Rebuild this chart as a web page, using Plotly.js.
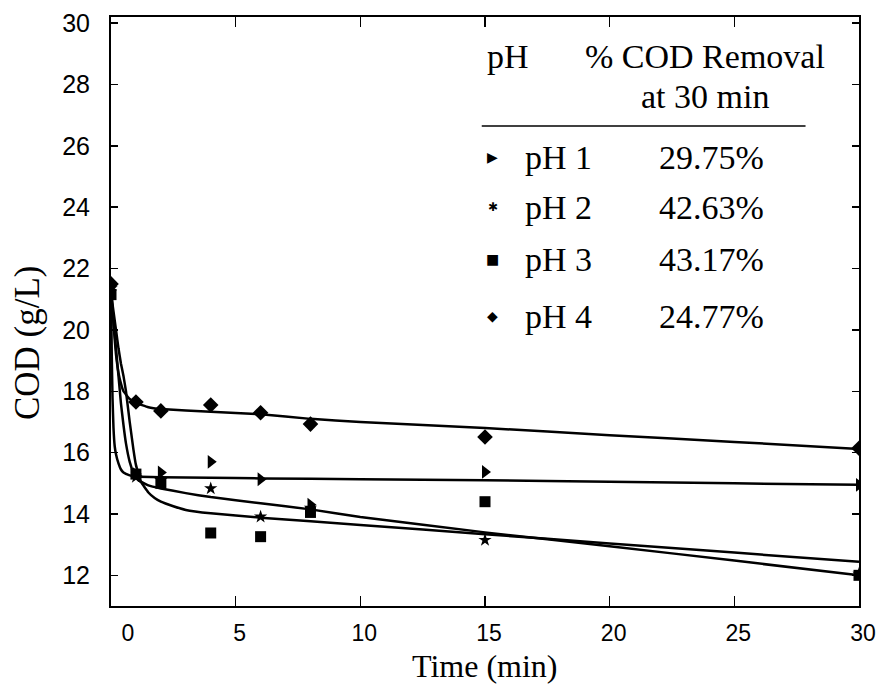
<!DOCTYPE html>
<html>
<head>
<meta charset="utf-8">
<script src="https://cdn.plot.ly/plotly-3.0.1.min.js"></script>
<style>html,body{margin:0;padding:0;background:#fff;}#chart{width:877px;height:684px;}</style>
</head>
<body>
<div id="chart"></div>
<script>
// Measured points (Time in min, COD in g/L)
const timeMin = [0, 1, 2, 4, 6, 8, 15, 30];
const codPH1 = [21.3, 15.3, 15.35, 15.7, 15.13, 14.3, 15.37, 14.95];
const codPH2 = [21.35, 15.2, 15.1, 14.83, 13.91, 14.2, 13.15, 12.05];
const codPH3 = [21.15, 15.3, 15.0, 13.38, 13.26, 14.05, 14.4, 12.0];
const codPH4 = [21.5, 17.65, 17.36, 17.55, 17.3, 16.93, 16.51, 16.14];

// Fitted curves
const fitTimePH1 = [0, 0.03, 0.06, 0.1, 0.15, 0.2, 0.3, 0.4, 0.5, 0.75, 1, 2, 4, 6, 10, 15, 20, 25, 30];
const fitPH1 = [21.3, 19.2, 17.8, 16.8, 16.2, 15.95, 15.65, 15.45, 15.35, 15.26, 15.22, 15.2, 15.18, 15.16, 15.13, 15.1, 15.05, 15.0, 14.95];
const fitTimePH2 = [0, 0.1, 0.2, 0.3, 0.4, 0.5, 0.6, 0.75, 0.9, 1, 1.2, 1.5, 1.75, 2, 2.5, 3, 4, 6, 10, 15, 20, 25, 30];
const fitPH2 = [21.2, 20.6, 20.0, 19.4, 18.9, 18.5, 18.0, 17.0, 16.1, 15.6, 15.05, 14.7, 14.52, 14.4, 14.25, 14.13, 14.02, 13.88, 13.64, 13.34, 13.04, 12.74, 12.44];
const fitTimePH3 = [0, 0.1, 0.2, 0.3, 0.4, 0.5, 0.6, 0.75, 0.9, 1.1, 1.5, 2, 3, 4, 6, 8, 10, 15, 20, 25, 30];
const fitPH3 = [21.15, 20.3, 19.4, 18.5, 17.6, 16.9, 16.3, 15.7, 15.35, 15.1, 14.93, 14.83, 14.68, 14.55, 14.35, 14.15, 13.9, 13.4, 12.95, 12.48, 12.0];
const fitTimePH4 = [0, 0.1, 0.2, 0.3, 0.4, 0.5, 0.75, 1, 1.5, 2, 4, 6, 8, 10, 15, 20, 25, 30];
const fitPH4 = [21.5, 20.2, 19.2, 18.6, 18.25, 18.0, 17.75, 17.62, 17.48, 17.42, 17.33, 17.25, 17.1, 17.0, 16.8, 16.57, 16.35, 16.12];

// Legend table text and tick labels
const legendNames = ['pH 1', 'pH 2', 'pH 3', 'pH 4'];
const legendRemoval = ['29.75%', '42.63%', '43.17%', '24.77%'];
const legendGlyphs = ['\u25B6', '\u2731', '\u25A0', '\u25C6'];
const xTickVals = [0, 5, 10, 15, 20, 25, 30];
const xTickText = ['\u2007\u20070', '5', '10', '15', '20', '25', '30'];
const yTickVals = [12, 14, 16, 18, 20, 22, 24, 26, 28, 30];

const lineStyle = {color: '#000', width: 2.5, shape: 'spline', smoothing: 0.3};
const fits = [[fitTimePH1, fitPH1], [fitTimePH2, fitPH2], [fitTimePH3, fitPH3], [fitTimePH4, fitPH4]];
const traces = fits.map(f => ({x: f[0], y: f[1], mode: 'lines', line: lineStyle, showlegend: false, hoverinfo: 'skip'}));

const markerDefs = [
  [codPH1, 'triangle-right', 12],
  [codPH2, 'star', 10],
  [codPH3, 'square', 11],
  [codPH4, 'diamond', 12]
];
markerDefs.forEach(m => traces.push({
  x: timeMin, y: m[0], mode: 'markers', showlegend: false,
  marker: {symbol: m[1], size: m[2], color: '#000', line: {width: 0}}
}));

// paper coordinate helpers
const L = 111, R = 859.5, T = 17, B = 606;
const px = v => (v - L) / (R - L);
const py = v => (B - v) / (B - T);
const serif = 'Liberation Serif, Times New Roman, serif';

const annotations = [
  {x: px(485), y: py(57), text: 'pH', xanchor: 'left'},
  {x: px(705), y: py(57), text: '% COD Removal', xanchor: 'center'},
  {x: px(705), y: py(97), text: 'at 30 min', xanchor: 'center'},
  {x: px(485), y: py(666), text: 'Time (min)', xanchor: 'center', font: {family: serif, size: 32, color: '#000'}},
  {x: px(27), y: py(343), text: 'COD (g/L)', xanchor: 'center', textangle: -90, font: {family: serif, size: 35, color: '#000'}}
];
const rowY = [157, 207, 259, 316];
legendNames.forEach((n, i) => {
  annotations.push({x: px(493), y: py(rowY[i]), text: legendGlyphs[i], xanchor: 'center',
    font: {family: 'DejaVu Sans', size: i === 1 ? 12 : 14, color: '#000'}});
  annotations.push({x: px(523), y: py(rowY[i]), text: n, xanchor: 'left'});
  annotations.push({x: px(657), y: py(rowY[i]), text: legendRemoval[i], xanchor: 'left'});
});
annotations.forEach(a => {
  a.xref = 'paper'; a.yref = 'paper'; a.yanchor = 'middle'; a.showarrow = false;
  if (!a.font) a.font = {family: serif, size: 34, color: '#000'};
});

const layout = {
  width: 877, height: 684,
  margin: {l: L, r: 877 - R, t: T, b: 684 - B},
  paper_bgcolor: '#fff', plot_bgcolor: '#fff',
  showlegend: false,
  xaxis: {
    range: [0, 30], tickvals: xTickVals, ticktext: xTickText, ticks: 'inside', ticklen: 10, tickwidth: 1.5, tickcolor: '#000',
    showline: true, linecolor: '#000', linewidth: 2, mirror: 'allticks', showgrid: false, zeroline: false,
    tickfont: {family: 'Liberation Sans, Arial, sans-serif', size: 23, color: '#000'},
    ticklabelstandoff: 5, ticklabelshift: 4
  },
  yaxis: {
    range: [11, 30.2], tickvals: yTickVals, ticks: 'inside', ticklen: 7, tickwidth: 1.5, tickcolor: '#000',
    showline: true, linecolor: '#000', linewidth: 2, mirror: 'allticks', showgrid: false, zeroline: false,
    tickfont: {family: 'Liberation Sans, Arial, sans-serif', size: 25, color: '#000'},
    ticklabelstandoff: 14
  },
  shapes: [{type: 'line', xref: 'paper', yref: 'paper', x0: px(482), x1: px(806), y0: py(126), y1: py(126),
    line: {color: '#000', width: 1.5}}],
  annotations: annotations
};

Plotly.newPlot('chart', traces, layout, {displayModeBar: false, staticPlot: true});
</script>
</body>
</html>
